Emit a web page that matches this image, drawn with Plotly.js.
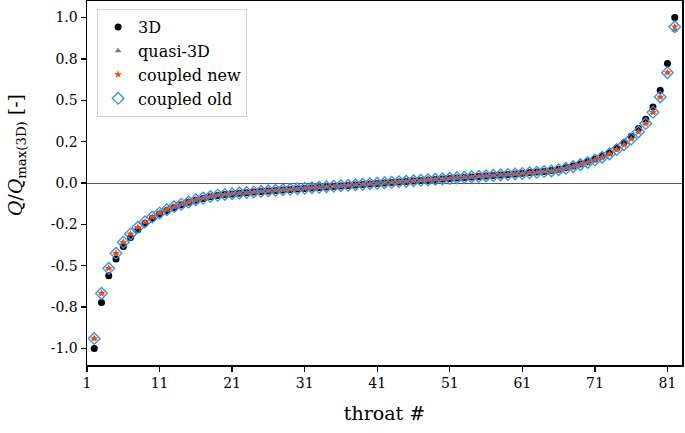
<!DOCTYPE html>
<html>
<head>
<meta charset="utf-8">
<script src="https://cdn.plot.ly/plotly-3.0.1.min.js"></script>
<style>html,body{margin:0;padding:0;background:#fff;}#chart{width:685px;height:433px;}</style>
</head>
<body>
<div id="chart"></div>
<script>
// throat numbers 2..82 (81 throats)
const throat = [];
for (let i = 2; i <= 82; i++) throat.push(i);

const q3D = [
  -1.000, -0.723, -0.560, -0.460, -0.384, -0.329, -0.282, -0.244, -0.213, -0.187,
  -0.166, -0.148, -0.131, -0.117, -0.104, -0.093, -0.083, -0.075, -0.070, -0.066,
  -0.062, -0.059, -0.055, -0.051, -0.048, -0.045, -0.042, -0.039, -0.036, -0.033,
  -0.030, -0.027, -0.024, -0.021, -0.018, -0.015, -0.012, -0.009, -0.006, -0.003,
   0.000,  0.003,  0.006,  0.009,  0.012,  0.015,  0.018,  0.021,  0.024,  0.027,
   0.030,  0.033,  0.036,  0.039,  0.042,  0.045,  0.048,  0.051,  0.055,  0.059,
   0.063,  0.066,  0.070,  0.075,  0.083,  0.092,  0.103,  0.115,  0.129,  0.145,
   0.163,  0.183,  0.212,  0.243,  0.282,  0.329,  0.385,  0.460,  0.561,  0.723,
   1.000
];

const qCoupledNew = [
  -0.940, -0.667, -0.516, -0.425, -0.358, -0.308, -0.268, -0.235, -0.206, -0.181,
  -0.161, -0.144, -0.128, -0.115, -0.102, -0.091, -0.082, -0.074, -0.069, -0.065,
  -0.061, -0.058, -0.054, -0.050, -0.047, -0.044, -0.041, -0.038, -0.035, -0.032,
  -0.029, -0.026, -0.023, -0.020, -0.017, -0.014, -0.011, -0.008, -0.005, -0.002,
   0.001,  0.004,  0.007,  0.010,  0.013,  0.016,  0.019,  0.022,  0.025,  0.028,
   0.031,  0.034,  0.037,  0.040,  0.043,  0.046,  0.049,  0.052,  0.055,  0.058,
   0.062,  0.065,  0.069,  0.073,  0.080,  0.089,  0.099,  0.111,  0.124,  0.139,
   0.156,  0.176,  0.202,  0.231,  0.266,  0.309,  0.359,  0.427,  0.520,  0.667,
   0.944
];

const qQuasi3D = qCoupledNew.slice(0, 80).concat([0.925]);
const qCoupledOld = qCoupledNew.slice();

const yTickVals = [-1, -0.75, -0.5, -0.25, 0, 0.25, 0.5, 0.75, 1];
const yTickText = ['-1.0', '-0.8', '-0.5', '-0.2', '0.0', '0.2', '0.5', '0.8', '1.0'];
const xTickVals = [1, 11, 21, 31, 41, 51, 61, 71, 81];
const xTickText = ['1', '11', '21', '31', '41', '51', '61', '71', '81'];

const FONT = 'DejaVu Serif, Liberation Serif, serif';

const traces = [
  {x: throat, y: q3D, name: '3D', mode: 'markers', type: 'scatter',
   marker: {symbol: 'circle', size: 7, color: '#000000'}},
  {x: throat, y: qQuasi3D, name: 'quasi-3D', mode: 'markers', type: 'scatter',
   marker: {symbol: 'triangle-up', size: 6, color: '#7f7f7f'}},
  {x: throat, y: qCoupledNew, name: 'coupled new', mode: 'markers', type: 'scatter',
   marker: {symbol: 'star', size: 6, color: '#ff4500'}},
  {x: throat, y: qCoupledOld, name: 'coupled old', mode: 'markers', type: 'scatter',
   marker: {symbol: 'diamond-open', size: 9, color: '#2f8ff0', line: {width: 1.3, color: '#2f8ff0'}}}
];

const layout = {
  width: 685, height: 433,
  margin: {l: 87, r: 3, t: 1, b: 68},
  paper_bgcolor: '#ffffff', plot_bgcolor: '#ffffff',
  font: {family: FONT, size: 14, color: '#000'},
  showlegend: true,
  legend: {x: 0.017, y: 0.978, xanchor: 'left', yanchor: 'top',
           bgcolor: 'rgba(255,255,255,0.9)', bordercolor: '#d0d0d0', borderwidth: 1,
           font: {family: FONT, size: 16, color: '#000'}, itemsizing: 'trace',
           itemwidth: 30, tracegroupgap: 0},
  xaxis: {range: [1, 83], tickvals: xTickVals, ticktext: xTickText,
          ticks: 'outside', ticklen: 5, tickwidth: 1.3, tickcolor: '#000',
          showline: true, linecolor: '#000', linewidth: 1.5, mirror: true,
          showgrid: false, zeroline: false,
          tickfont: {family: FONT, size: 14},
          title: {text: 'throat #', font: {family: FONT, size: 19}, standoff: 16}},
  yaxis: {range: [-1.1, 1.1], tickvals: yTickVals, ticktext: yTickText,
          ticks: 'outside', ticklen: 5, tickwidth: 1.3, tickcolor: '#000',
          showline: true, linecolor: '#000', linewidth: 1.5, mirror: true,
          showgrid: false, zeroline: true, zerolinecolor: '#555', zerolinewidth: 1,
          tickfont: {family: FONT, size: 14}},
  annotations: [
    {text: '<i>Q</i>/<i>Q</i><sub>max(3D)</sub> [-]', xref: 'paper', yref: 'paper',
     x: -0.117, y: 0.577, xanchor: 'center', yanchor: 'middle', textangle: -90,
     showarrow: false, font: {family: FONT, size: 19, color: '#000'}}
  ]
};

Plotly.newPlot('chart', traces, layout, {displayModeBar: false, staticPlot: true});
</script>
</body>
</html>
